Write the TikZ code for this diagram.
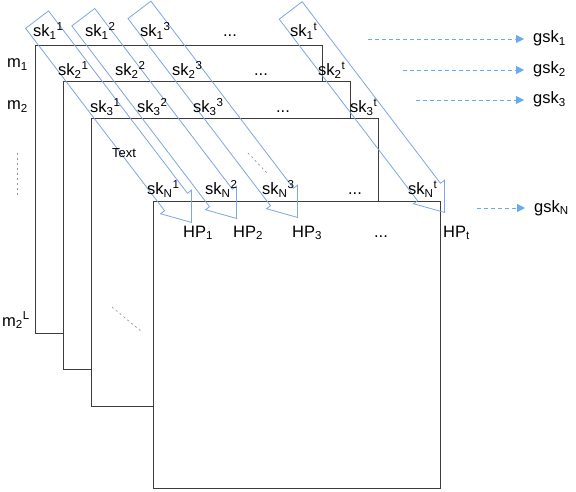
\documentclass[tikz,border=0pt]{standalone}
\usepackage{fontspec}
\setmainfont{Liberation Sans}
\usetikzlibrary{arrows.meta, shapes.arrows}
\definecolor{keyblue} {RGB}{126, 166, 224}
\definecolor{gskblue} {RGB}{102, 170, 240}
\definecolor{frame}   {RGB}{ 60,  60,  60}
\definecolor{hint}    {RGB}{150, 150, 150}
\newcommand{\skey}[2]{sk\textsubscript{#1}\textsuperscript{#2}}

\begin{document}
\begin{tikzpicture}[x=1pt, y=-1pt, font=\fontsize{16.5}{19}\selectfont,
  lbl/.style={inner sep=0pt, anchor=base west},
  dots/.style={inner sep=0pt, anchor=base},
  sheet/.style={draw=frame, line width=1pt, fill=white},
  keyarrow/.style={single arrow, draw=keyblue, line width=0.8pt,
    inner xsep=0pt, inner ysep=14pt, single arrow head extend=5pt,
    single arrow tip angle=74, rotate=-52.7, anchor=tip},
  gskline/.style={gskblue, line width=0.8pt, dash pattern=on 4pt off 3pt,
    shorten >=9pt, -{Triangle[length=8pt, width=8pt]}},
  hintline/.style={hint, line width=0.7pt, dash pattern=on 2pt off 3pt}]
  \useasboundingbox (0,0) rectangle (576,492);
  % stacked sheets
  \draw[sheet] (35,46) rectangle (322,333);
  \draw[sheet] (63,82) rectangle (350,369);
  \draw[sheet] (91,119) rectangle (378,406);
  \draw[sheet] (153,202) rectangle (440,488);
  % elided rows
  \draw[hintline] (17,153) -- (17,195);
  \draw[hintline] (248,153) -- (267,173);
  \draw[hintline] (112,307) -- (142,332);
  % key columns
  \coordinate (tip1) at (192,223);
  \coordinate (tip2) at (237,219);
  \coordinate (tip3) at (298,218);
  \coordinate (tipt) at (445,213);
  \node[keyarrow, minimum height=255pt] (col1) at (tip1) {};
  \node[keyarrow, minimum height=253pt] (col2) at (tip2) {};
  \node[keyarrow, minimum height=261pt] (col3) at (tip3) {};
  \node[keyarrow, minimum height=254pt] (colt) at (tipt) {};
  % row labels
  \node[lbl] (m1) at (7,68) {m\textsubscript{1}};
  \node[lbl] (m2) at (7,110) {m\textsubscript{2}};
  \node[lbl] (m2L) at (2,326) {m\textsubscript{2}\textsuperscript{L}};
  % key shares
  \node[lbl] (sk11) at (33,37) {\skey{1}{1}};
  \node[lbl] (sk12) at (85,37) {\skey{1}{2}};
  \node[lbl] (sk13) at (140,37) {\skey{1}{3}};
  \node[dots] (dots1) at (230,37) {...};
  \node[lbl] (sk1t) at (290,37) {\skey{1}{t}};
  \node[lbl] (sk21) at (58,76) {\skey{2}{1}};
  \node[lbl] (sk22) at (115,76) {\skey{2}{2}};
  \node[lbl] (sk23) at (172,76) {\skey{2}{3}};
  \node[dots] (dots2) at (261,76) {...};
  \node[lbl] (sk2t) at (318,76) {\skey{2}{t}};
  \node[lbl] (sk31) at (90,113) {\skey{3}{1}};
  \node[lbl] (sk32) at (137,113) {\skey{3}{2}};
  \node[lbl] (sk33) at (193,113) {\skey{3}{3}};
  \node[dots] (dots3) at (283,113) {...};
  \node[lbl] (sk3t) at (350,113) {\skey{3}{t}};
  \node[lbl, font=\fontsize{13}{15}\selectfont] (txt) at (112,158) {Text};
  \node[lbl] (skN1) at (147,195) {\skey{N}{1}};
  \node[lbl] (skN2) at (205,195) {\skey{N}{2}};
  \node[lbl] (skN3) at (262,195) {\skey{N}{3}};
  \node[dots] (dotsN) at (355,195) {...};
  \node[lbl] (skNt) at (408,195) {\skey{N}{t}};
  % hyperplanes
  \node[lbl] (hp1) at (183,237) {HP\textsubscript{1}};
  \node[lbl] (hp2) at (233,237) {HP\textsubscript{2}};
  \node[lbl] (hp3) at (292,237) {HP\textsubscript{3}};
  \node[dots] (dotsHP) at (381,237) {...};
  \node[lbl] (hpt) at (443,237) {HP\textsubscript{t}};
  % group keys
  \node[lbl] (gsk1) at (533,43) {gsk\textsubscript{1}};
  \node[lbl] (gsk2) at (533,74) {gsk\textsubscript{2}};
  \node[lbl] (gsk3) at (533,104) {gsk\textsubscript{3}};
  \node[lbl] (gskN) at (534,212) {gsk\textsubscript{N}};
  \coordinate (from1) at (368,39);
  \coordinate (from2) at (403,70);
  \coordinate (from3) at (416,100);
  \coordinate (fromN) at (477,208);
  \draw[gskline] (from1) -- (from1 -| gsk1.west);
  \draw[gskline] (from2) -- (from2 -| gsk2.west);
  \draw[gskline] (from3) -- (from3 -| gsk3.west);
  \draw[gskline] (fromN) -- (fromN -| gskN.west);
\end{tikzpicture}
\end{document}
